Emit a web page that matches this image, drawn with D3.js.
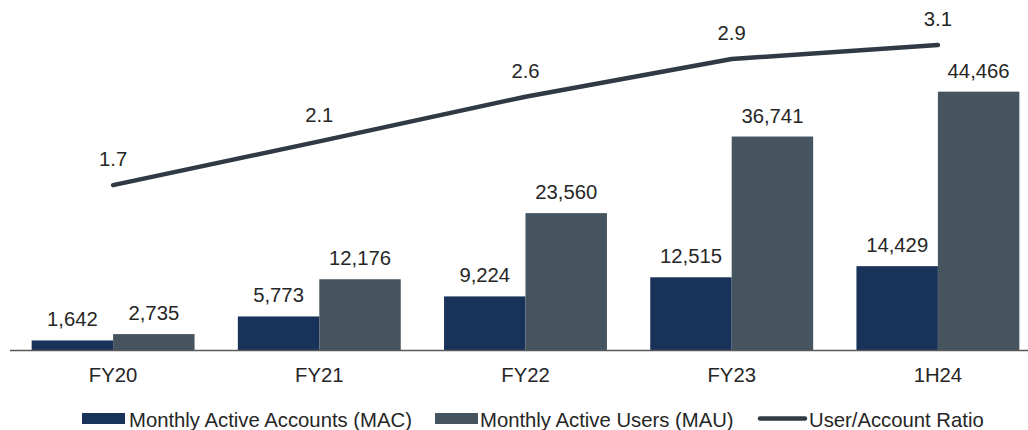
<!DOCTYPE html>
<html>
<head>
<meta charset="utf-8">
<script src="https://cdn.jsdelivr.net/npm/d3@7"></script>
<style>
  html, body { margin: 0; padding: 0; background: #fff; }
  svg text { font-family: "Liberation Sans", Arial, sans-serif; fill: #262626; }
</style>
</head>
<body>
<svg id="chart" width="1028" height="430"></svg>
<script>
'use strict';

const categories = ['FY20', 'FY21', 'FY22', 'FY23', '1H24'];
const macValues  = [1642, 5773, 9224, 12515, 14429];
const mauValues  = [2735, 12176, 23560, 36741, 44466];
const ratioValues = [1.67, 2.11, 2.56, 2.94, 3.08];

const seriesNames = ['Monthly Active Accounts (MAC)', 'Monthly Active Users (MAU)', 'User/Account Ratio'];

const COLORS = {
  mac:   '#18325a',
  mau:   '#46545f',
  ratio: '#2f3a44',
  axis:  '#595959',
};

const W = 1028, H = 430;
const baseY = 350;
const FONT = 20.3;

const svg = d3.select('#chart');

// Scales
const x = d3.scaleBand()
  .domain(categories)
  .range([10, 1041])
  .paddingInner(0.21)
  .paddingOuter(0.105);

const xSub = d3.scaleBand()
  .domain(['mac', 'mau'])
  .range([0, x.bandwidth()]);

const y = d3.scaleLinear().domain([0, 50000]).range([baseY, 59.5]);
const y2 = d3.scaleLinear().domain([0, 3]).range([351, 53]);

const fmt = d3.format(',');
const fmt1 = d3.format('.1f');

const rows = categories.map((c, i) => ({
  cat: c,
  bars: [
    { key: 'mac', value: macValues[i] },
    { key: 'mau', value: mauValues[i] },
  ],
  ratio: ratioValues[i],
}));

// Bars
const groups = svg.append('g').attr('class', 'bars')
  .selectAll('g')
  .data(rows)
  .join('g')
  .attr('transform', d => `translate(${x(d.cat)},0)`);

groups.selectAll('rect')
  .data(d => d.bars)
  .join('rect')
  .attr('x', d => xSub(d.key))
  .attr('y', d => y(d.value))
  .attr('width', xSub.bandwidth())
  .attr('height', d => baseY - y(d.value))
  .attr('fill', d => COLORS[d.key]);

groups.selectAll('text')
  .data(d => d.bars)
  .join('text')
  .attr('x', d => xSub(d.key) + xSub.bandwidth() / 2)
  .attr('y', d => y(d.value) - 14)
  .attr('text-anchor', 'middle')
  .attr('font-size', FONT)
  .text(d => fmt(d.value));

// X axis
const xAxis = svg.append('g')
  .attr('transform', `translate(0,${baseY})`)
  .call(d3.axisBottom(x).tickSize(0).tickPadding(0));

xAxis.select('.domain').remove();
xAxis.selectAll('text')
  .attr('font-size', FONT)
  .attr('dy', null)
  .attr('y', 32)
  .style('font-family', '"Liberation Sans", Arial, sans-serif')
  .attr('fill', '#262626');

svg.append('line')
  .attr('x1', 10).attr('x2', W)
  .attr('y1', baseY + 0.5).attr('y2', baseY + 0.5)
  .attr('stroke', COLORS.axis)
  .attr('stroke-width', 1.5);

// Ratio line
const cx = d => x(d.cat) + x.bandwidth() / 2;

svg.append('path')
  .datum(rows)
  .attr('fill', 'none')
  .attr('stroke', COLORS.ratio)
  .attr('stroke-width', 4.5)
  .attr('stroke-linecap', 'round')
  .attr('stroke-linejoin', 'round')
  .attr('d', d3.line().x(cx).y(d => y2(d.ratio)));

svg.append('g')
  .selectAll('text')
  .data(rows)
  .join('text')
  .attr('x', cx)
  .attr('y', d => y2(d.ratio) - 19)
  .attr('text-anchor', 'middle')
  .attr('font-size', FONT)
  .text(d => fmt1(d.ratio));

// Legend
const legendSwatchX = [82, 435, 758];
const legendTextX = [129, 480, 809];
const legendTypes = ['mac', 'mau', 'ratio'];

const legend = svg.append('g').attr('class', 'legend');

legendTypes.forEach((t, i) => {
  if (t === 'ratio') {
    legend.append('line')
      .attr('x1', legendSwatchX[i] + 2).attr('x2', legendSwatchX[i] + 47)
      .attr('y1', 418.5).attr('y2', 418.5)
      .attr('stroke', COLORS.ratio)
      .attr('stroke-width', 4.5)
      .attr('stroke-linecap', 'round');
  } else {
    legend.append('rect')
      .attr('x', legendSwatchX[i]).attr('y', 413)
      .attr('width', 43).attr('height', 11)
      .attr('fill', COLORS[t]);
  }
  legend.append('text')
    .attr('x', legendTextX[i])
    .attr('y', 426.5)
    .attr('font-size', FONT)
    .text(seriesNames[i]);
});
</script>
</body>
</html>
